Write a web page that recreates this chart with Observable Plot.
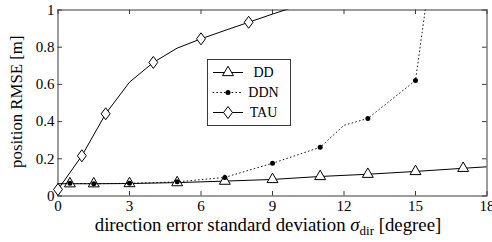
<!DOCTYPE html>
<html><head><meta charset="utf-8">
<script src="https://cdn.jsdelivr.net/npm/d3@7"></script>
<script src="https://cdn.jsdelivr.net/npm/@observablehq/plot@0.6"></script>
<style>
body{margin:0;background:#fff}
#chart{width:492px;height:242px}
#chart svg, #chart svg text, #chart svg tspan{font-family:"Liberation Serif","Times New Roman",Times,serif !important}
</style>
</head><body><div id="chart"></div>
<script>
// ---- data ----
const xTicks = [0, 3, 6, 9, 12, 15, 18];
const yTicks = [0, 0.2, 0.4, 0.6, 0.8, 1];
const yTickLabels = ["0", "0.2", "0.4", "0.6", "0.8", "1"];
const seriesNames = ["DD", "DDN", "TAU"];

const ddX = [0, 0.5, 1.5, 3, 5, 7, 9, 11, 13, 15, 17, 18];
const ddY = [0.066, 0.066, 0.066, 0.067, 0.072, 0.08, 0.089, 0.105, 0.117, 0.132, 0.149, 0.157];
const ddMarked = [0.5, 1.5, 3, 5, 7, 9, 11, 13, 15, 17];

const ddnX = [0, 0.5, 1.5, 3, 5, 7, 9, 11, 12, 13, 15, 16];
const ddnY = [0.066, 0.068, 0.066, 0.068, 0.076, 0.1, 0.176, 0.262, 0.38, 0.417, 0.621, 1.55];
const ddnMarked = [0.5, 1.5, 3, 5, 7, 9, 11, 13, 15];

const tauX = [0, 1, 2, 3, 4, 5, 6, 7, 8, 9, 10];
const tauY = [0.035, 0.216, 0.442, 0.612, 0.718, 0.795, 0.845, 0.89, 0.934, 0.978, 1.02];
const tauMarked = [0, 1, 2, 4, 6, 8];

const dd = ddX.map((x, i) => ({x, y: ddY[i]}));
const ddn = ddnX.map((x, i) => ({x, y: ddnY[i]}));
const tau = tauX.map((x, i) => ({x, y: tauY[i]}));

// ---- styles ----
const W = 492, H = 242;
const mL = 57.5, mR = 5.5, mT = 9.5, mB = 46.5;
const plotW = W - mL - mR, plotH = H - mT - mB;
const frameColor = "#3a3a3a";
const tickLen = 4.5;
const dotted = "0.8,3";
const font = '"Liberation Serif","Times New Roman",Times,serif';

const triSym = {draw(ctx, size) { const R = Math.sqrt(size / Math.PI);
  ctx.moveTo(0, -R); ctx.lineTo(R * 0.866, R / 2); ctx.lineTo(-R * 0.866, R / 2); ctx.closePath(); }};
const diaSym = {draw(ctx, size) { const R = Math.sqrt(size / Math.PI), w = R * 0.74;
  ctx.moveTo(0, -R); ctx.lineTo(w, 0); ctx.lineTo(0, R); ctx.lineTo(-w, 0); ctx.closePath(); }};
const dotSym = {draw(ctx, size) { const R = Math.sqrt(size / Math.PI); ctx.moveTo(R, 0); ctx.arc(0, 0, R, 0, 2 * Math.PI); }};

const chart = Plot.plot({
  width: W, height: H,
  marginLeft: mL, marginRight: mR, marginTop: mT, marginBottom: mB,
  x: {domain: [0, 18]},
  y: {domain: [0, 1]},
  style: {fontFamily: font, fontSize: "15px", background: "white", color: "black", overflow: "visible"},
  marks: [
    Plot.frame({stroke: frameColor, strokeWidth: 1}),
    Plot.tickX(xTicks, {x: d => d, insetTop: plotH - tickLen, stroke: frameColor}),
    Plot.tickX(xTicks, {x: d => d, insetBottom: plotH - tickLen, stroke: frameColor}),
    Plot.tickY(yTicks, {y: d => d, insetRight: plotW - tickLen, stroke: frameColor}),
    Plot.tickY(yTicks, {y: d => d, insetLeft: plotW - tickLen, stroke: frameColor}),
    Plot.axisX({ticks: xTicks, tickSize: 0, tickPadding: 4, label: null, fontFamily: font, fontSize: 15, tickFormat: d => String(d)}),
    Plot.axisY({ticks: yTicks, tickSize: 0, tickPadding: 3.5, label: null, fontFamily: font, fontSize: 15, tickFormat: (d, i) => yTickLabels[i]}),
    Plot.line(dd, {x: "x", y: "y", stroke: "black", strokeWidth: 1, clip: true}),
    Plot.dot(dd, {x: "x", y: "y", filter: d => ddMarked.includes(d.x), symbol: triSym, r: 6.3, fill: "white", stroke: "black", strokeWidth: 1}),
    Plot.line(ddn, {x: "x", y: "y", stroke: "black", strokeWidth: 0.9, strokeDasharray: dotted, strokeLinecap: "round", clip: true}),
    Plot.dot(ddn, {x: "x", y: "y", filter: d => ddnMarked.includes(d.x), symbol: dotSym, r: 2.5, fill: "black", stroke: "none"}),
    Plot.line(tau, {x: "x", y: "y", stroke: "black", strokeWidth: 1, clip: true}),
    Plot.dot(tau, {x: "x", y: "y", filter: d => tauMarked.includes(d.x), symbol: diaSym, r: 6, fill: "white", stroke: "black", strokeWidth: 1})
  ]
});
document.getElementById("chart").appendChild(chart);

// ---- axis labels ----
const svg = d3.select(chart);
const xl = svg.append("text").attr("x", 268).attr("y", 231).attr("text-anchor", "middle")
  .style("font-family", font).style("font-size", "18.8px").attr("fill", "black");
xl.append("tspan").text("direction error standard deviation ");
xl.append("tspan").style("font-style", "italic").text("σ");
xl.append("tspan").style("font-size", "13px").attr("dy", 3.5).text("dir");
xl.append("tspan").attr("dy", -3.5).text(" [degree]");

svg.append("text").attr("transform", "translate(21.5,101.7) rotate(-90)").attr("text-anchor", "middle")
  .style("font-family", font).style("font-size", "16.8px").attr("fill", "black").text("position RMSE [m]");

// ---- legend ----
const lg = svg.append("g").attr("transform", "translate(207.5,59.5)");
lg.append("rect").attr("width", 83).attr("height", 66).attr("fill", "white").attr("stroke", frameColor);
const legSyms = [
  {sym: triSym, r: 6.3, fill: "white", stroke: "black", dash: null},
  {sym: dotSym, r: 2.5, fill: "black", stroke: "none", dash: dotted},
  {sym: diaSym, r: 6, fill: "white", stroke: "black", dash: null}
];
seriesNames.forEach((name, i) => {
  const cy = 13 + i * 20, s = legSyms[i];
  lg.append("line").attr("x1", 5.5).attr("x2", 35.5).attr("y1", cy).attr("y2", cy)
    .attr("stroke", "black").attr("stroke-width", 1)
    .attr("stroke-dasharray", s.dash).attr("stroke-linecap", s.dash ? "round" : null);
  const p = d3.path(); s.sym.draw(p, Math.PI * s.r * s.r);
  lg.append("path").attr("d", p.toString()).attr("transform", `translate(20.5,${cy})`)
    .attr("fill", s.fill).attr("stroke", s.stroke).attr("stroke-width", 1);
  lg.append("text").attr("x", 56).attr("y", cy).attr("dy", "0.35em").attr("text-anchor", "middle")
    .style("font-family", font).style("font-size", "14px").attr("fill", "black").text(name);
});
</script></body></html>
